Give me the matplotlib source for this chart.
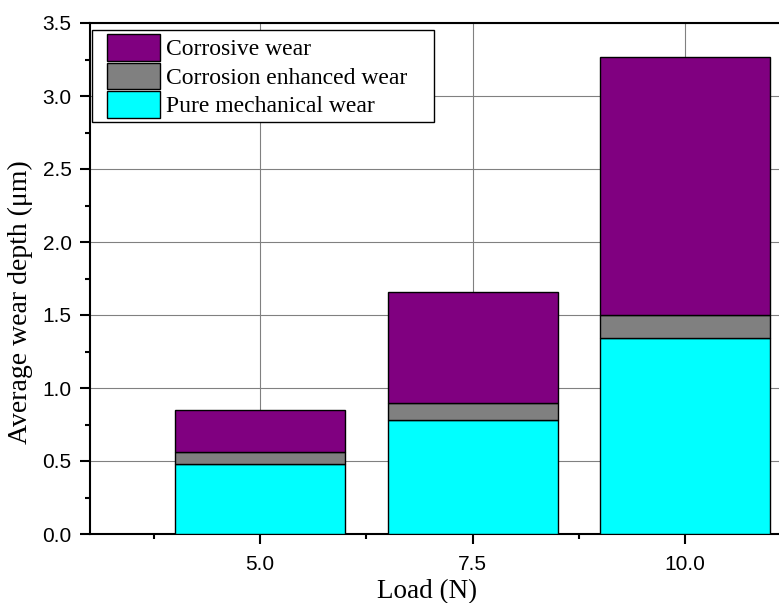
import matplotlib
matplotlib.use('Agg')
import matplotlib.pyplot as plt
import numpy as np
from matplotlib.patches import Rectangle
from matplotlib.legend_handler import HandlerPatch
from matplotlib.ticker import MultipleLocator, FixedLocator, FormatStrFormatter

# data
loads = [5.0, 7.5, 10.0]
pure_mech = [0.48, 0.78, 1.34]
corr_enh = [0.08, 0.12, 0.16]
corrosive = [0.29, 0.76, 1.77]

SERIF = ['Liberation Serif', 'DejaVu Serif']
SANS = ['Liberation Sans', 'DejaVu Sans']

fig = plt.figure(figsize=(7.79, 6.03), dpi=100)
# axes runs past the right edge of the picture, as in the source
ax = fig.add_axes([90/779, 69/603, 765/779, 511/603])

x = np.array(loads)
b1 = np.array(pure_mech)
b2 = b1 + np.array(corr_enh)
kw = dict(width=2.0, edgecolor='black', linewidth=1.0, zorder=3)
c1 = ax.bar(x, pure_mech, color='#00FFFF', label='Pure mechanical wear', **kw)
c2 = ax.bar(x, corr_enh, bottom=b1, color='#808080', label='Corrosion enhanced wear', **kw)
c3 = ax.bar(x, corrosive, bottom=b2, color='#800080', label='Corrosive wear', **kw)

ax.set_xlim(3.0, 12.0)
ax.set_ylim(0, 3.5)
ax.xaxis.set_major_locator(FixedLocator([5.0, 7.5, 10.0]))
ax.xaxis.set_minor_locator(FixedLocator([3.75, 6.25, 8.75, 11.25]))
ax.yaxis.set_major_locator(MultipleLocator(0.5))
ax.yaxis.set_minor_locator(MultipleLocator(0.25))
ax.set_xticklabels(['5.0', '7.5', '10.0'])
ax.yaxis.set_major_formatter(FormatStrFormatter('%.1f'))

ax.grid(True, which='major', color='#808080', lw=0.8, zorder=0)
ax.tick_params(which='major', direction='out', length=7.2, width=1.5, labelsize=15)
ax.tick_params(axis='x', which='major', pad=8)
ax.tick_params(axis='y', which='major', pad=6)
ax.tick_params(which='minor', direction='out', length=3.6, width=1.5)
for t in ax.get_xticklabels() + ax.get_yticklabels():
    t.set_family(SANS)
for s in ax.spines.values():
    s.set_linewidth(1.5)

ax.set_xlabel('Load (N)', family=SERIF, fontsize=19.5)
ax.set_ylabel('Average wear depth (μm)', family=SERIF, fontsize=20)
ax.xaxis.set_label_coords(0.4405, -0.089)
ax.yaxis.set_label_coords(-0.0745, 0.454)


# legend swatches sit a little in from the left edge of the box
def swatch(legend, orig_handle, xdescent, ydescent, width, height, fontsize):
    off = 7.5
    return Rectangle((off - xdescent, -ydescent), width - off, height)


handles = [c3.patches[0], c2.patches[0], c1.patches[0]]
labels = [c3.get_label(), c2.get_label(), c1.get_label()]
leg = ax.legend(handles, labels, loc='upper left', bbox_to_anchor=(0.002, 0.987),
                prop={'family': SERIF, 'size': 17}, frameon=False,
                borderaxespad=0.0, handlelength=2.7, handleheight=1.35,
                labelspacing=0.08, handletextpad=0.25, borderpad=0.2,
                handler_map={Rectangle: HandlerPatch(patch_func=swatch)})
leg.set_zorder(10)

# box round the legend, wider on the right like the source
fig.canvas.draw()
bb = leg.get_window_extent()
frame = Rectangle((bb.x0, bb.y0), bb.width + 22, bb.height, transform=None,
                  fc='white', ec='black', lw=1.0, zorder=9)
ax.add_artist(frame)

fig.savefig('out.png', dpi=100)
